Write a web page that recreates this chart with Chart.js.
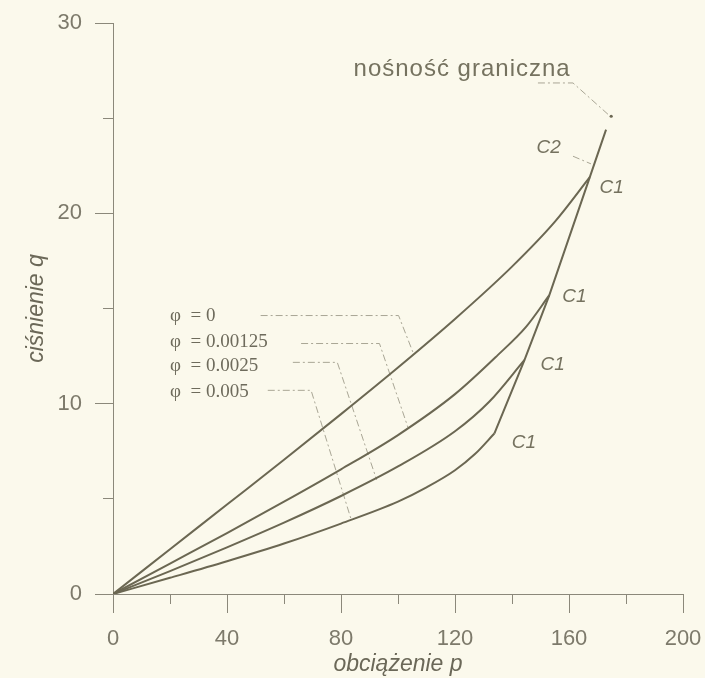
<!DOCTYPE html>
<html lang="pl">
<head>
    <meta charset="UTF-8">
    <title>Nośność graniczna</title>
    <script src="https://cdn.jsdelivr.net/npm/chart.js"></script>
    <style>
        body {
            margin: 0;
            padding: 0;
            background: #fbf9ec;
        }
        #wrap {
            width: 705px;
            height: 678px;
        }
    </style>
</head>
<body>
    <div id="wrap"><canvas id="chart" width="705" height="678"></canvas></div>

    <script>
        // curves p -> q for each phi
        const phiNames = ['φ  = 0', 'φ  = 0.00125', 'φ  = 0.0025', 'φ  = 0.005'];

        const pPhi0 = [0, 20, 40, 60, 80, 100, 120, 140, 155, 167.3];
        const qPhi0 = [0, 2.35, 4.7, 7.05, 9.45, 11.9, 14.45, 17.2, 19.55, 21.9];

        const pPhi1 = [0, 20, 40, 60, 80, 100, 120, 135, 145, 153.1];
        const qPhi1 = [0, 1.6, 3.2, 4.85, 6.55, 8.35, 10.5, 12.55, 14.05, 15.7];

        const pPhi2 = [0, 20, 40, 60, 80, 100, 120, 132, 144.4];
        const qPhi2 = [0, 1.2, 2.45, 3.75, 5.15, 6.7, 8.55, 10.1, 12.3];

        const pPhi3 = [0, 20, 40, 60, 80, 100, 110, 120, 127, 133.8];
        const qPhi3 = [0, 0.85, 1.72, 2.65, 3.7, 4.85, 5.6, 6.5, 7.35, 8.43];

        // C1 envelope up to ultimate load
        const pEnvelope = [133.8, 144.4, 153.1, 167.3, 173.0];
        const qEnvelope = [8.43, 12.3, 15.7, 21.9, 24.4];

        const ultimatePoint = { p: 174.8, q: 25.1 };

        // leader lines for the labels
        const leaders = [
            { p: [51.8, 100.2, 105.5], q: [14.63, 14.63, 12.6] },
            { p: [66.0, 93.5, 103.5], q: [13.16, 13.16, 8.75] },
            { p: [63.1, 78.7, 92.5], q: [12.17, 12.17, 6.0] },
            { p: [54.3, 69.5, 83.6], q: [10.7, 10.7, 3.9] },
            { p: [149.1, 161.4, 173.7], q: [26.85, 26.85, 25.2] },
            { p: [161.4, 167.7], q: [23.0, 22.6] }
        ];

        const xTicksMajor = 40, xTicksMinor = 20;
        const yTicksMajor = 10, yTicksMinor = 5;

        const lineColor = '#6b6752';
        const axisColor = '#8b887a';
        const leaderColor = '#a9a695';

        const sans = '"Liberation Sans", Arial, sans-serif';
        const serif = '"Liberation Serif", "Times New Roman", serif';

        const texts = [
            { t: 'nośność graniczna', p: 122.5, q: 27.55, font: '24px ' + sans, align: 'center', spacing: '1px' },
            { t: 'C2', p: 152.9, q: 23.44, font: 'italic 19px ' + sans, align: 'center' },
            { t: 'C1', p: 175.0, q: 21.34, font: 'italic 19px ' + sans, align: 'center' },
            { t: 'C1', p: 161.9, q: 15.6, font: 'italic 19px ' + sans, align: 'center' },
            { t: 'C1', p: 154.3, q: 12.03, font: 'italic 19px ' + sans, align: 'center' },
            { t: 'C1', p: 144.2, q: 7.94, font: 'italic 19px ' + sans, align: 'center' },
            { t: phiNames[0], p: 20.0, q: 14.58, font: '19px ' + serif, align: 'left' },
            { t: phiNames[1], p: 20.0, q: 13.24, font: '19px ' + serif, align: 'left' },
            { t: phiNames[2], p: 20.0, q: 11.96, font: '19px ' + serif, align: 'left' },
            { t: phiNames[3], p: 20.0, q: 10.59, font: '19px ' + serif, align: 'left' }
        ];

        function pts(ps, qs) {
            return ps.map((p, i) => ({ x: p, y: qs[i] }));
        }

        const datasets = [];
        [[pPhi0, qPhi0], [pPhi1, qPhi1], [pPhi2, qPhi2], [pPhi3, qPhi3]].forEach((c, i) => {
            datasets.push({
                label: phiNames[i],
                data: pts(c[0], c[1]),
                showLine: true,
                borderColor: lineColor,
                borderWidth: 2,
                pointRadius: 0,
                cubicInterpolationMode: 'monotone'
            });
        });
        datasets.push({
            label: 'C1',
            data: pts(pEnvelope, qEnvelope),
            showLine: true,
            borderColor: lineColor,
            borderWidth: 2,
            pointRadius: 0,
            tension: 0
        });
        leaders.forEach(l => {
            datasets.push({
                data: pts(l.p, l.q),
                showLine: true,
                borderColor: leaderColor,
                borderWidth: 1,
                borderDash: [7, 3, 2, 3],
                pointRadius: 0,
                tension: 0
            });
        });
        datasets.push({
            data: [{ x: ultimatePoint.p, y: ultimatePoint.q }],
            showLine: false,
            pointRadius: 1.6,
            backgroundColor: lineColor,
            borderWidth: 0
        });

        const bgPlugin = {
            id: 'bg',
            beforeDraw(chart) {
                const ctx = chart.ctx;
                ctx.save();
                ctx.fillStyle = '#fbf9ec';
                ctx.fillRect(0, 0, chart.width, chart.height);
                ctx.restore();
            }
        };

        const textPlugin = {
            id: 'texts',
            afterDatasetsDraw(chart) {
                const ctx = chart.ctx;
                const xs = chart.scales.x, ys = chart.scales.y;
                ctx.save();
                ctx.textBaseline = 'middle';
                texts.forEach(a => {
                    ctx.font = a.font;
                    ctx.textAlign = a.align;
                    ctx.letterSpacing = a.spacing || '0px';
                    ctx.fillStyle = a.t.startsWith('φ') ? '#6e6b5c' : '#75725f';
                    ctx.fillText(a.t, xs.getPixelForValue(a.p), ys.getPixelForValue(a.q));
                });
                ctx.restore();
            }
        };

        const tickFont = { family: sans, size: 22 };
        const titleFont = { family: sans, size: 23, style: 'italic' };

        new Chart(document.getElementById('chart'), {
            type: 'scatter',
            data: { datasets },
            plugins: [bgPlugin, textPlugin],
            options: {
                responsive: false,
                animation: false,
                layout: { padding: { top: 23, right: 22, left: 0, bottom: 0 } },
                plugins: { legend: { display: false }, tooltip: { enabled: false } },
                scales: {
                    xMinor: {
                        type: 'linear', position: 'bottom', weight: 0,
                        min: 0, max: 200,
                        ticks: { stepSize: xTicksMinor, display: false },
                        grid: { drawOnChartArea: false, tickLength: 10, tickColor: axisColor },
                        border: { display: false },
                        afterFit(s) { s.height = 0; s.paddingLeft = 0; s.paddingRight = 0; }
                    },
                    x: {
                        type: 'linear', position: 'bottom', weight: 1,
                        min: 0, max: 200,
                        ticks: { stepSize: xTicksMajor, color: '#7d7a6b', font: tickFont, padding: 13, maxRotation: 0 },
                        grid: { drawOnChartArea: false, tickLength: 19, tickColor: axisColor },
                        border: { display: true, color: axisColor, width: 1 },
                        title: { display: true, text: 'obciążenie p', color: '#6b6858', font: titleFont, padding: { top: 0, bottom: 0 } },
                        afterFit(s) { s.height = 84; s.paddingLeft = 0; s.paddingRight = 0; }
                    },
                    yMinor: {
                        type: 'linear', position: 'left', weight: 0,
                        min: 0, max: 30,
                        ticks: { stepSize: yTicksMinor, display: false },
                        grid: { drawOnChartArea: false, tickLength: 10, tickColor: axisColor },
                        border: { display: false },
                        afterFit(s) { s.width = 0; s.paddingTop = 0; s.paddingBottom = 0; }
                    },
                    y: {
                        type: 'linear', position: 'left', weight: 1,
                        min: 0, max: 30,
                        ticks: { stepSize: yTicksMajor, color: '#7d7a6b', font: tickFont, padding: 13 },
                        grid: { drawOnChartArea: false, tickLength: 18, tickColor: axisColor },
                        border: { display: true, color: axisColor, width: 1 },
                        title: { display: true, text: 'ciśnienie q', color: '#6b6858', font: titleFont, padding: { top: 23, bottom: 0 } },
                        afterFit(s) { s.width = 113; s.paddingTop = 0; s.paddingBottom = 0; }
                    }
                }
            }
        });
    </script>
</body>
</html>
